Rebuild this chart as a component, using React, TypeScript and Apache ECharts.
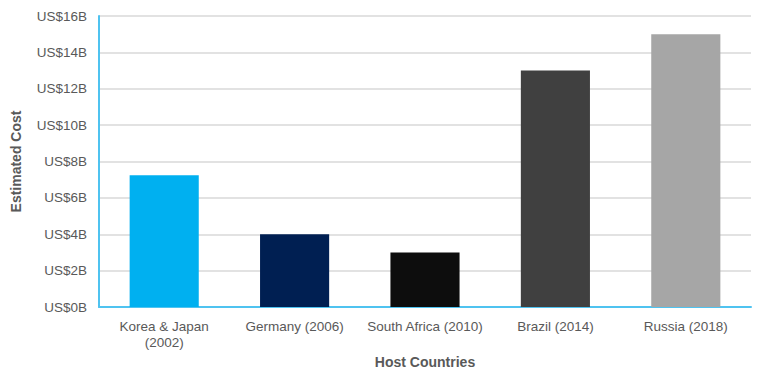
import React, { useEffect, useRef } from "react";
import * as echarts from "echarts";

const categories = ["Korea & Japan\n(2002)", "Germany (2006)", "South Africa (2010)", "Brazil (2014)", "Russia (2018)"];
const costs = [7.25, 4, 3, 13, 15];
const barColors = ["#00B0F0", "#001F52", "#0D0D0D", "#404040", "#A6A6A6"];
const yTicks = { min: 0, max: 16, interval: 2 };

export default function App() {
  const ref = useRef<HTMLDivElement>(null);
  useEffect(() => {
    if (!ref.current) return;
    const chart = echarts.init(ref.current, null, { renderer: "svg" });
    const font = "Liberation Sans, Arial";
    chart.setOption({
      animation: false,
      grid: { left: 99, right: 17, top: 16, bottom: 69, containLabel: false },
      xAxis: {
        type: "category",
        data: categories,
        name: "Host Countries",
        nameLocation: "middle",
        nameGap: 44,
        nameTextStyle: { fontFamily: font, fontSize: 14, fontWeight: "bold", color: "#595959" },
        axisLine: { show: true, lineStyle: { color: "#4FC3F0", width: 2 } },
        axisTick: { show: false },
        axisLabel: { fontFamily: font, fontSize: 13.5, color: "#595959", margin: 11, lineHeight: 16, interval: 0 },
      },
      yAxis: {
        type: "value",
        min: yTicks.min,
        max: yTicks.max,
        interval: yTicks.interval,
        name: "Estimated Cost",
        nameLocation: "middle",
        nameGap: 76,
        nameRotate: 90,
        nameTextStyle: { fontFamily: font, fontSize: 14, fontWeight: "bold", color: "#595959" },
        axisLine: { show: true, lineStyle: { color: "#4FC3F0", width: 2 } },
        axisTick: { show: false },
        axisLabel: {
          fontFamily: font,
          fontSize: 13.5,
          color: "#595959",
          margin: 12,
          formatter: (v: number) => `US$${v}B`,
        },
        splitLine: { show: true, lineStyle: { color: "#D9D9D9", width: 1.5 } },
      },
      series: [
        {
          type: "bar",
          barWidth: "53%",
          data: costs.map((v, i) => ({ value: v, itemStyle: { color: barColors[i] } })),
        },
      ],
    });
    return () => chart.dispose();
  }, []);
  return <div ref={ref} style={{ width: 768, height: 376, position: "absolute", left: 0, top: 0 }} />;
}
